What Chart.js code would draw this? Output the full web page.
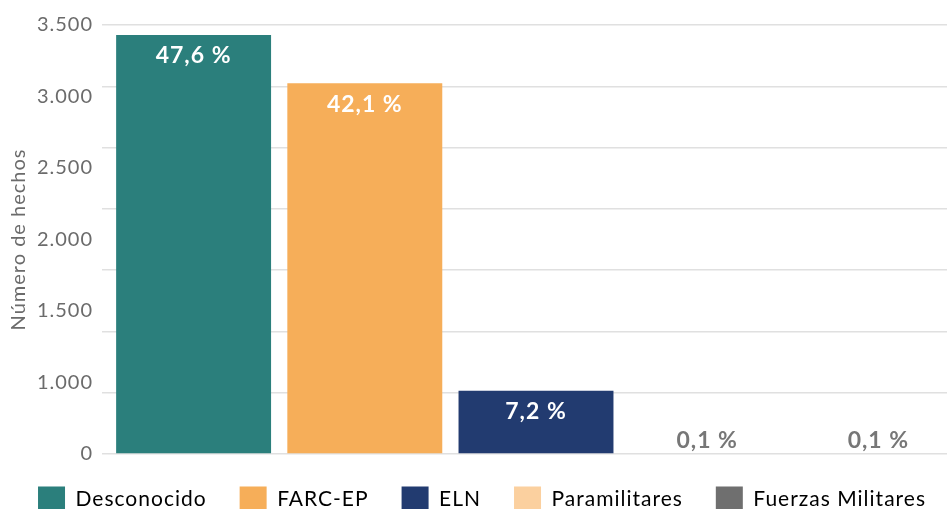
<!DOCTYPE html>
<html>
<head>
<meta charset="utf-8">
<script src="https://cdn.jsdelivr.net/npm/chart.js@4.4.1/dist/chart.umd.min.js"></script>
<style>
  html, body { margin: 0; padding: 0; background: #fff; overflow: hidden; }
  #wrap { position: relative; width: 964px; height: 523px; }
</style>
</head>
<body>
<div id="wrap"><canvas id="chart"></canvas></div>
<script>
// Hechos por presunto responsable
const categories = ['Desconocido', 'FARC-EP', 'ELN', 'Paramilitares', 'Fuerzas Militares'];
const hechos = [3418, 3024, 516, 7, 7];
const porcentajes = ['47,6 %', '42,1 %', '7,2 %', '0,1 %', '0,1 %'];
const colores = ['#2b7f7c', '#f6ae59', '#223b70', '#fbd09f', '#6f6f6f'];
// the source prints 7 labels spread evenly over the axis (no "500")
const yTickLabels = ['0', '1.000', '1.500', '2.000', '2.500', '3.000', '3.500'];

const FONT = 'Lato, "Noto Sans", sans-serif';
const GRAY = '#6b6b6b';

// wider lettering, closer to the original typeface
const spacing = {
  id: 'spacing',
  beforeLayout(chart) { chart.ctx.letterSpacing = '1px'; },
  beforeDraw(chart) { chart.ctx.letterSpacing = '1px'; },
};

const barLabels = {
  id: 'barLabels',
  afterDatasetsDraw(chart) {
    const ctx = chart.ctx;
    const meta = chart.getDatasetMeta(0);
    ctx.save();
    ctx.letterSpacing = '1px';
    ctx.font = `bold 23px ${FONT}`;
    ctx.textAlign = 'center';
    ctx.textBaseline = 'middle';
    meta.data.forEach((bar, i) => {
      const h = bar.base - bar.y;
      if (h > 40) {
        ctx.fillStyle = '#ffffff';
        ctx.fillText(porcentajes[i], bar.x, bar.y + 21);
      } else {
        ctx.fillStyle = '#777777';
        ctx.fillText(porcentajes[i], bar.x, bar.y - 13);
      }
    });
    ctx.restore();
  }
};

new Chart(document.getElementById('chart'), {
  type: 'bar',
  data: {
    labels: categories,
    datasets: [{
      data: hechos,
      backgroundColor: colores,
      borderWidth: 0,
      categoryPercentage: 1,
      barPercentage: 0.905,
    }],
  },
  options: {
    responsive: true,
    maintainAspectRatio: false,
    animation: false,
    layout: { padding: { top: 25, right: 0, left: 0, bottom: 0 } },
    plugins: {
      legend: {
        position: 'bottom',
        labels: {
          boxWidth: 27,
          boxHeight: 26,
          padding: 33,
          color: GRAY,
          font: { family: FONT, size: 21 },
          generateLabels: () => categories.map((c, i) => ({
            text: c,
            fillStyle: colores[i],
            strokeStyle: colores[i],
            lineWidth: 0,
            hidden: false,
            index: i,
          })),
        },
      },
      tooltip: { enabled: false },
    },
    scales: {
      x: {
        grid: { display: false },
        border: { display: false },
        ticks: { display: false },
        afterFit: (scale) => { scale.height = -0.5; },
      },
      y: {
        position: 'left',
        weight: 0,
        min: 0,
        max: 3500,
        ticks: { stepSize: 500, display: false },
        grid: { color: '#e0e0e0', lineWidth: 1.5, tickLength: 6, drawTicks: true },
        border: { display: false },
        afterFit: (scale) => { scale.width = 6; },
      },
      yLab: {
        position: 'left',
        weight: 1,
        min: 0,
        max: 3500,
        grid: { display: false },
        border: { display: false },
        ticks: {
          stepSize: 3500 / 6,
          color: GRAY,
          padding: 1,
          font: { family: FONT, size: 20 },
          callback: (v, i) => yTickLabels[i],
        },
        title: {
          display: true,
          text: 'Número de hechos',
          color: GRAY,
          font: { family: FONT, size: 20 },
          padding: { top: 7, bottom: 0 },
        },
        afterFit: (scale) => { scale.width = 102; },
      },
    },
  },
  plugins: [spacing, barLabels],
});
</script>
</body>
</html>
